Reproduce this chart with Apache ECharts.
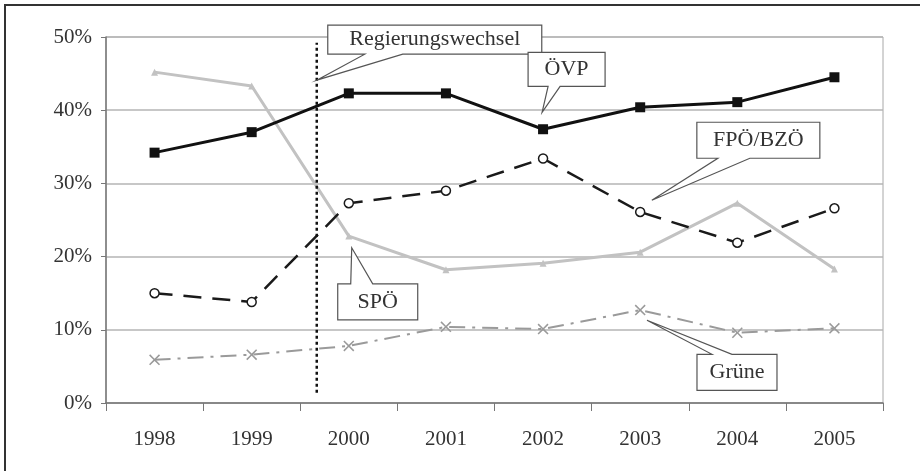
<!DOCTYPE html>
<html>
<head>
<meta charset="utf-8">
<script src="https://cdn.jsdelivr.net/npm/echarts@6/dist/echarts.min.js"></script>
<style>
  html, body { margin: 0; padding: 0; background: #fff; }
  #chart { width: 920px; height: 471px; }
</style>
</head>
<body>
<div id="chart"></div>
<script>
// --- data ---
const years = ['1998', '1999', '2000', '2001', '2002', '2003', '2004', '2005'];
const oevp = [34.2, 37.0, 42.3, 42.3, 37.4, 40.4, 41.1, 44.5];
const spoe = [45.2, 43.3, 22.8, 18.2, 19.1, 20.6, 27.3, 18.3];
const fpoe = [15.0, 13.8, 27.3, 29.0, 33.4, 26.1, 21.9, 26.6];
const gruene = [5.9, 6.6, 7.8, 10.4, 10.1, 12.7, 9.6, 10.2];
const yTicks = [0, 10, 20, 30, 40, 50];

// government change, Feb 2000, on a continuous year scale
const changeYear = 1999.67;
const changeSpan = [1.4, 49.2];

// callouts: tip in [year, percent], box offset from tip in px
const callouts = [
  { text: 'Regierungswechsel', tip: [1999.67, 44.1], box: [11, -55, 214, 29], edge: 'bottom', base: [37, 75] },
  { text: 'ÖVP', tip: [2001.99, 39.7], box: [-14, -60, 77, 34], edge: 'bottom', base: [20, 32] },
  { text: 'FPÖ/BZÖ', tip: [2003.12, 27.7], box: [45, -78, 123, 36], edge: 'bottom', base: [21, 53] },
  { text: 'SPÖ', tip: [2000.03, 21.2], box: [-14, 36, 80, 36], edge: 'top', base: [13, 35] },
  { text: 'Grüne', tip: [2003.07, 11.3], box: [50, 34, 80, 36], edge: 'top', base: [15, 35] }
];

const serif = '"Liberation Serif", "Times New Roman", serif';
const crossPath = 'path://M0,1L1,0L5,4L9,0L10,1L6,5L10,9L9,10L5,6L1,10L0,9L4,5Z';

const chart = echarts.init(document.getElementById('chart'));

const option = {
  backgroundColor: '#fff',
  animation: false,
  grid: {
    left: 106, right: 37, top: 37, bottom: 68,
    show: true, borderColor: '#a8a8a8', borderWidth: 1
  },
  xAxis: [
    {
      type: 'category',
      data: years,
      boundaryGap: true,
      axisLine: { lineStyle: { color: '#777', width: 1.5 } },
      axisTick: { show: true, length: 8, lineStyle: { color: '#777' } },
      axisLabel: { fontFamily: serif, fontSize: 21, color: '#333', margin: 26 }
    },
    {
      type: 'value',
      min: 1997.5, max: 2005.5,
      show: false
    }
  ],
  yAxis: {
    type: 'value',
    min: yTicks[0], max: yTicks[yTicks.length - 1], interval: 10,
    axisLine: { show: true, lineStyle: { color: '#777', width: 1.5 } },
    axisTick: { show: true, length: 5, lineStyle: { color: '#777' } },
    axisLabel: { fontFamily: serif, fontSize: 21, color: '#333', margin: 14, formatter: '{value}%' },
    splitLine: { lineStyle: { color: '#b4b4b4', width: 1.5 } }
  },
  series: [
    {
      name: 'SPÖ', type: 'line', data: spoe,
      lineStyle: { color: '#c2c2c2', width: 3 },
      itemStyle: { color: '#c2c2c2' },
      symbol: 'triangle', symbolSize: 7
    },
    {
      name: 'Grüne', type: 'line', data: gruene,
      lineStyle: { color: '#9a9a9a', width: 2, type: [16, 7, 3, 7] },
      itemStyle: { color: '#9a9a9a' },
      symbol: crossPath, symbolSize: 11
    },
    {
      name: 'FPÖ/BZÖ', type: 'line', data: fpoe,
      lineStyle: { color: '#1a1a1a', width: 2.5, type: [18, 11] },
      itemStyle: { color: '#fff', borderColor: '#1a1a1a', borderWidth: 1.5 },
      symbol: 'circle', symbolSize: 9
    },
    {
      name: 'ÖVP', type: 'line', data: oevp,
      lineStyle: { color: '#111', width: 3 },
      itemStyle: { color: '#111' },
      symbol: 'rect', symbolSize: 10
    },
    {
      name: 'Regierungswechsel', type: 'line',
      xAxisIndex: 1,
      data: changeSpan.map(v => [changeYear, v]),
      symbol: 'none',
      lineStyle: { color: '#111', width: 2.5, type: [3, 3] }
    }
  ]
};

chart.setOption(option);

function calloutPolygon(c) {
  const t = chart.convertToPixel({ xAxisIndex: 1, yAxisIndex: 0 }, c.tip);
  const x0 = t[0] + c.box[0], y0 = t[1] + c.box[1];
  const x1 = x0 + c.box[2], y1 = y0 + c.box[3];
  const b0 = x0 + c.base[0], b1 = x0 + c.base[1];
  let pts;
  if (c.edge === 'bottom') {
    pts = [[x0, y0], [x1, y0], [x1, y1], [b1, y1], t, [b0, y1], [x0, y1]];
  } else {
    pts = [[x0, y0], [b0, y0], t, [b1, y0], [x1, y0], [x1, y1], [x0, y1]];
  }
  return { pts, cx: (x0 + x1) / 2, cy: (y0 + y1) / 2 };
}

const graphics = [
  {
    type: 'rect', silent: true,
    shape: { x: 5, y: 5, width: 1000, height: 600 },
    style: { fill: 'none', stroke: '#333', lineWidth: 2 }
  }
];
callouts.forEach(c => {
  const p = calloutPolygon(c);
  graphics.push({
    type: 'polygon', silent: true, z: 100,
    shape: { points: p.pts },
    style: { fill: '#fff', stroke: '#555', lineWidth: 1.2 }
  });
  graphics.push({
    type: 'text', silent: true, z: 101,
    x: p.cx, y: p.cy,
    style: {
      text: c.text, font: '22px ' + serif, fill: '#333',
      textAlign: 'center', textVerticalAlign: 'middle'
    }
  });
});

chart.setOption({ graphic: graphics });
</script>
</body>
</html>
